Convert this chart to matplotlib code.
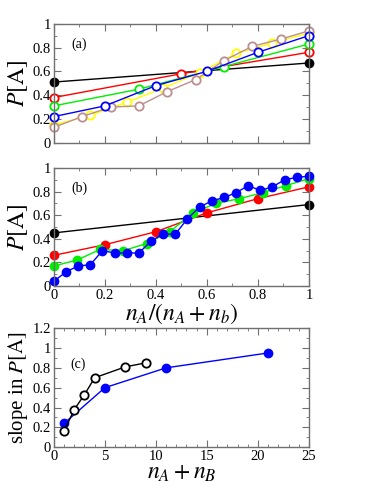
import numpy as np
import matplotlib.pyplot as plt
from matplotlib.ticker import MultipleLocator

plt.rcParams['font.family'] = ['Liberation Serif', 'DejaVu Serif']
plt.rcParams['mathtext.fontset'] = 'stix'

# ---------------------------------------------------------------
# Data
# ---------------------------------------------------------------
# panel (a): open markers (black filled), n = 1, 2, 3, 5, 7, 9
a_black = [0.51, 0.67]
a_red = [0.38, 0.58, 0.76]
a_green = [0.31, 0.45, 0.64, 0.83]
a_blue = [0.22, 0.31, 0.48, 0.60, 0.76, 0.90]
a_yellow = [0.15, 0.23, 0.34, 0.46, 0.59, 0.75, 0.84, 0.92]
a_brown = [0.13, 0.22, 0.30, 0.31, 0.43, 0.53, 0.69, 0.81, 0.87, 0.94]

# panel (b): filled markers, n = 1, 5, 11, 21
b_black = [0.45, 0.69]
b_red = [0.26, 0.35, 0.46, 0.62, 0.74, 0.84]
b_green = [0.17, 0.22, 0.31, 0.30, 0.36, 0.46, 0.62, 0.70, 0.74, 0.79, 0.85, 0.91]
b_blue = [0.04, 0.12, 0.17, 0.18, 0.30, 0.28, 0.28, 0.28, 0.38, 0.44, 0.44,
          0.57, 0.67, 0.72, 0.75, 0.79, 0.85, 0.81, 0.84, 0.90, 0.92, 0.93]

# panel (c): slopes
c_open_n = [1, 2, 3, 4, 7, 9]
c_open_slope = [0.16, 0.38, 0.53, 0.70, 0.81, 0.85]
c_fill_n = [1, 5, 11, 21]
c_fill_slope = [0.24, 0.60, 0.80, 0.95]

GREY = '#707070'
BROWN = '#bc8f8f'


def frac(vals):
    return np.linspace(0, 1, len(vals))


def style(ax, xmaj, xmin, ymaj, ymin):
    for s in ax.spines.values():
        s.set_color(GREY)
        s.set_linewidth(1.0)
    ax.xaxis.set_major_locator(MultipleLocator(xmaj))
    ax.xaxis.set_minor_locator(MultipleLocator(xmin))
    ax.yaxis.set_major_locator(MultipleLocator(ymaj))
    ax.yaxis.set_minor_locator(MultipleLocator(ymin))
    ax.tick_params(which='both', direction='in', top=True, right=True,
                   color=GREY, labelsize=10.5, pad=2)
    ax.tick_params(which='major', length=5)
    ax.tick_params(which='minor', length=2.5)


fig = plt.figure(figsize=(3.74, 4.84), dpi=100)
ax_a = fig.add_axes([0.144, 0.705, 0.682, 0.246])
ax_b = fig.add_axes([0.144, 0.409, 0.682, 0.244])
ax_c = fig.add_axes([0.144, 0.076, 0.682, 0.246])

mk = dict(markersize=6, linewidth=1.0, clip_on=False)

# (a)
ax_a.plot(frac(a_black), a_black, 'o-', color='black', **mk)
for vals, col in [(a_red, 'red'), (a_green, '#00ee00'), (a_yellow, '#ffff00'),
                  (a_brown, BROWN), (a_blue, 'blue')]:
    ax_a.plot(frac(vals), vals, 'o-', color=col, mfc='white', mew=1.3, **mk)
ax_a.set_xlim(0, 1)
ax_a.set_ylim(0, 1)
style(ax_a, 0.2, 0.1, 0.2, 0.1)
ax_a.set_xticklabels([])
ax_a.set_yticks([0, 0.2, 0.4, 0.6, 0.8, 1])
ax_a.set_yticklabels(['0', '0.2', '0.4', '0.6', '0.8', '1'])
ax_a.set_ylabel(r'$P[\mathrm{A}]$', fontsize=17, labelpad=2)
ax_a.text(0.07, 0.8, '(a)', fontsize=10)

# (b)
for vals, col in [(b_black, 'black'), (b_red, 'red'),
                  (b_green, '#00ee00'), (b_blue, 'blue')]:
    ax_b.plot(frac(vals), vals, 'o-', color=col, **mk)
ax_b.set_xlim(0, 1)
ax_b.set_ylim(0, 1)
style(ax_b, 0.2, 0.1, 0.2, 0.1)
ax_b.set_xticks([0, 0.2, 0.4, 0.6, 0.8, 1])
ax_b.set_xticklabels(['0', '0.2', '0.4', '0.6', '0.8', '1'])
ax_b.set_yticks([0, 0.2, 0.4, 0.6, 0.8, 1])
ax_b.set_yticklabels(['0', '0.2', '0.4', '0.6', '0.8', '1'])
ax_b.set_ylabel(r'$P[\mathrm{A}]$', fontsize=17, labelpad=2)
ax_b.set_xlabel(r'$n_A/(n_A + n_b)$', fontsize=17, labelpad=0)
ax_b.text(0.07, 0.8, '(b)', fontsize=10)

# (c)
ax_c.plot(c_fill_n, c_fill_slope, 'o-', color='blue', **mk)
ax_c.plot(c_open_n, c_open_slope, 'o-', color='black', mfc='white', mew=1.3, **mk)
ax_c.set_xlim(0, 25)
ax_c.set_ylim(0, 1.2)
style(ax_c, 5, 1, 0.2, 0.1)
ax_c.set_yticks([0, 0.2, 0.4, 0.6, 0.8, 1, 1.2])
ax_c.set_yticklabels(['0', '0.2', '0.4', '0.6', '0.8', '1', '1.2'])
ax_c.set_ylabel(r'slope in $P[\mathrm{A}]$', fontsize=15, labelpad=2)
ax_c.set_xlabel(r'$n_A + n_B$', fontsize=17, labelpad=0)
ax_c.text(1.6, 0.8, '(c)', fontsize=10)

fig.savefig('out.png', dpi=100)
